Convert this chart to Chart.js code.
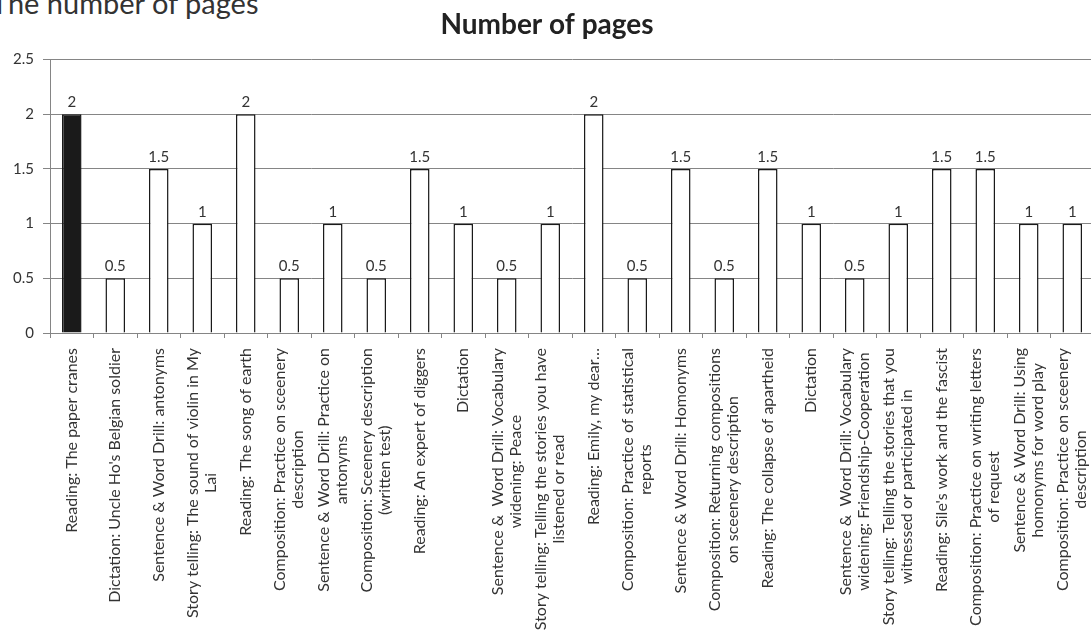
<!DOCTYPE html>
<html lang="en">
<head>
  <meta charset="UTF-8">
  <title>Number of pages</title>
  <script src="https://cdn.jsdelivr.net/npm/chart.js"></script>
  <style>
    html, body { margin: 0; padding: 0; background: #fff; overflow: hidden; }
    body { width: 1091px; height: 630px; position: relative; }
    #caption { position: absolute; left: -9px; top: -12px; font-family: Lato, sans-serif; font-size: 29px; line-height: 29px; color: #333; white-space: nowrap; }
    #wrap { position: absolute; left: 0; top: 0; width: 1110px; height: 660px; }
  </style>
</head>
<body>
  <div id="caption">The number of pages</div>
  <div id="wrap"><canvas id="chart"></canvas></div>

  <script>
    // lesson names, already wrapped the way the original chart wraps them
    const lessons = [
      ["Reading: The paper cranes"],
      ["Dictation: Uncle Ho's Belgian soldier"],
      ["Sentence & Word Drill: antonyms"],
      ["Story telling: The sound of violin in My", "Lai"],
      ["Reading: The song of earth"],
      ["Composition: Practice on sceenery", "description"],
      ["Sentence & Word Drill: Practice on", "antonyms"],
      ["Composition: Sceenery description", "(written test)"],
      ["Reading: An expert of diggers"],
      ["Dictation"],
      ["Sentence &  Word Drill: Vocabulary", "widening: Peace"],
      ["Story telling: Telling the stories you have", "listened or read"],
      ["Reading: Emily, my dear…"],
      ["Composition: Practice of statistical", "reports"],
      ["Sentence & Word Drill: Homonyms"],
      ["Composition: Returning compositions", "on sceenery description"],
      ["Reading: The collapse of apartheid"],
      ["Dictation"],
      ["Sentence &  Word Drill: Vocabulary", "widening: Friendship-Cooperation"],
      ["Story telling: Telling the stories that you", "witnessed or participated in"],
      ["Reading: Sile's work and the fascist"],
      ["Composition: Practice on writing letters", "of request"],
      ["Sentence & Word Drill: Using", "homonyms for word play"],
      ["Composition: Practice on sceenery", "description"]
    ];
    const pages = [2, 0.5, 1.5, 1, 2, 0.5, 1, 0.5, 1.5, 1, 0.5, 1, 2, 0.5, 1.5, 0.5, 1.5, 1, 0.5, 1, 1.5, 1.5, 1, 1];

    const gridColor = "#858585";
    const textColor = "#333";

    // numbers above the bars
    const valueLabels = {
      id: "valueLabels",
      afterDatasetsDraw(chart) {
        const ctx = chart.ctx;
        const meta = chart.getDatasetMeta(0);
        ctx.save();
        ctx.font = "15px Lato, sans-serif";
        ctx.fillStyle = textColor;
        ctx.textAlign = "center";
        ctx.textBaseline = "alphabetic";
        meta.data.forEach((bar, i) => {
          ctx.fillText(String(pages[i]), bar.x, bar.y - 7);
        });
        ctx.restore();
      }
    };

    // vertical category labels, lines centred on each other like Excel does
    const lessonLabels = {
      id: "lessonLabels",
      afterDraw(chart) {
        const xs = chart.scales.x;
        const ctx = chart.ctx;
        const top = xs.top + 15;
        const lh = 18;
        ctx.save();
        ctx.font = "16px Lato, sans-serif";
        ctx.fillStyle = textColor;
        ctx.textAlign = "center";
        ctx.textBaseline = "middle";
        lessons.forEach((lines, i) => {
          const cx = xs.getPixelForTick(i);
          const w = Math.max(...lines.map(l => ctx.measureText(l).width));
          ctx.save();
          ctx.translate(cx, top);
          ctx.rotate(-Math.PI / 2);
          lines.forEach((l, j) => {
            ctx.fillText(l, -w / 2, (j - (lines.length - 1) / 2) * lh);
          });
          ctx.restore();
        });
        ctx.restore();
      }
    };

    new Chart(document.getElementById("chart"), {
      type: "bar",
      data: {
        labels: lessons.map(l => l.join(" ")),
        datasets: [{
          label: "Number of pages",
          data: pages,
          backgroundColor: c => c.dataIndex === 0 ? "#1a1a1a" : "#ffffff",
          borderColor: "#1a1a1a",
          borderWidth: 1.5,
          categoryPercentage: 1,
          barPercentage: 0.45
        }]
      },
      options: {
        responsive: true,
        maintainAspectRatio: false,
        animation: false,
        layout: { padding: { left: 0, right: 16, top: 0, bottom: 0 } },
        plugins: {
          legend: { display: false },
          tooltip: { enabled: false },
          title: {
            display: true,
            text: "Number of pages",
            color: "#222",
            font: { family: "Lato", size: 28, weight: "bold" },
            padding: { top: 8, bottom: 18 }
          }
        },
        scales: {
          x: {
            grid: { drawOnChartArea: false, drawTicks: true, tickLength: 5, color: gridColor, offset: true },
            border: { color: gridColor },
            ticks: { display: false },
            afterFit(s) { s.height = 327; }
          },
          y: {
            min: 0,
            max: 2.5,
            ticks: {
              stepSize: 0.5,
              padding: 9,
              color: textColor,
              font: { family: "Lato", size: 15 },
              callback: v => String(v)
            },
            grid: { color: gridColor, tickLength: 7 },
            border: { color: gridColor },
            afterFit(s) { s.width = 50; }
          }
        }
      },
      plugins: [valueLabels, lessonLabels]
    });
  </script>
</body>
</html>
